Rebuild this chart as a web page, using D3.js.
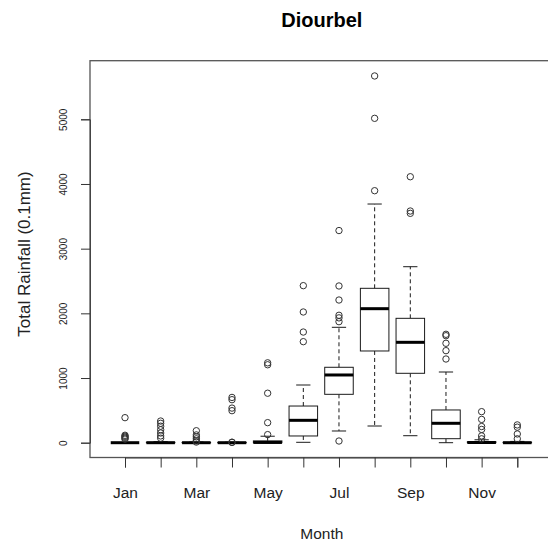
<!DOCTYPE html>
<html>
<head>
<meta charset="utf-8">
<script src="https://cdn.jsdelivr.net/npm/d3@7"></script>
<style>
  html, body { margin: 0; padding: 0; background: #fff; }
  svg { display: block; font-family: "Liberation Sans", Arial, sans-serif; }
</style>
</head>
<body>
<div id="chart"></div>
<script>
// monthly rainfall summary (units 0.1mm)
const months = ['Jan', 'Feb', 'Mar', 'Apr', 'May', 'Jun', 'Jul', 'Aug', 'Sep', 'Oct', 'Nov', 'Dec'];
const whiskerLow = [0, 0, 0, 0, 0, 6, 181, 258, 108, 0, 0, 0];
const q1 = [0, 0, 0, 0, 0, 104, 748, 1418, 1073, 62, 0, 0];
const medians = [0, 0, 0, 0, 4, 346, 1047, 2072, 1552, 300, 3, 0];
const q3 = [0, 6, 4, 3, 28, 567, 1166, 2387, 1923, 506, 14, 6];
const whiskerHigh = [0, 15, 10, 8, 100, 892, 1784, 3690, 2721, 1093, 45, 20];
const outliers = [
  [387, 115, 100, 85, 70, 55],
  [335, 300, 255, 200, 150, 105, 70],
  [185, 120, 90, 60, 30, 10],
  [700, 665, 535, 495, 8, 4],
  [1235, 1205, 765, 310, 125],
  [2428, 2021, 1711, 1562],
  [3280, 2423, 2206, 1970, 1930, 1871, 26],
  [5670, 5015, 3896],
  [4112, 3582, 3546],
  [1676, 1654, 1537, 1423, 1294],
  [480, 360, 250, 205, 105, 60],
  [275, 240, 135, 60]
];
const yTicks = [0, 1000, 2000, 3000, 4000, 5000];

const width = 548, height = 544;
const svg = d3.select('#chart').append('svg')
  .attr('width', width)
  .attr('height', height);

// scales: month index 1..12 and rainfall
const x = d3.scaleLinear().domain([1, 12]).range([125, 517.3]);
const y = d3.scaleLinear().domain([0, 5000]).range([442.7, 119.3]);

const plotLeft = 90, plotTop = 60.7, plotBottom = 457.5;
const plotRight = x(13.02);
const unit = x(2) - x(1);
const boxW = unit * 0.8;
const stapleW = unit * 0.4;
const ink = '#1a1a1a';

// title
svg.append('text')
  .attr('x', (plotLeft + plotRight) / 2)
  .attr('y', 27)
  .attr('text-anchor', 'middle')
  .style('font-size', '20px')
  .style('font-weight', 'bold')
  .text('Diourbel');

const g = svg.append('g');

// boxes
months.forEach((m, i) => {
  const cx = x(i + 1);
  const b = g.append('g');

  // whiskers (dashed)
  b.append('line')
    .attr('x1', cx).attr('x2', cx)
    .attr('y1', y(q3[i])).attr('y2', y(whiskerHigh[i]))
    .attr('stroke', ink).attr('stroke-dasharray', '4,3');
  b.append('line')
    .attr('x1', cx).attr('x2', cx)
    .attr('y1', y(q1[i])).attr('y2', y(whiskerLow[i]))
    .attr('stroke', ink).attr('stroke-dasharray', '4,3');

  // staples
  [whiskerHigh[i], whiskerLow[i]].forEach(v => {
    b.append('line')
      .attr('x1', cx - stapleW / 2).attr('x2', cx + stapleW / 2)
      .attr('y1', y(v)).attr('y2', y(v))
      .attr('stroke', ink);
  });

  // box
  b.append('rect')
    .attr('x', cx - boxW / 2)
    .attr('y', y(q3[i]))
    .attr('width', boxW)
    .attr('height', Math.max(0, y(q1[i]) - y(q3[i])))
    .attr('fill', '#fff')
    .attr('stroke', ink);

  // median
  b.append('line')
    .attr('x1', cx - boxW / 2).attr('x2', cx + boxW / 2)
    .attr('y1', y(medians[i])).attr('y2', y(medians[i]))
    .attr('stroke', '#000').attr('stroke-width', 3);

  // outliers
  b.selectAll('circle')
    .data(outliers[i])
    .enter()
    .append('circle')
    .attr('cx', cx)
    .attr('cy', d => y(d))
    .attr('r', 3.2)
    .attr('fill', 'none')
    .attr('stroke', '#333')
    .attr('stroke-width', 1);
});

// frame
svg.append('rect')
  .attr('x', plotLeft).attr('y', plotTop)
  .attr('width', plotRight - plotLeft)
  .attr('height', plotBottom - plotTop)
  .attr('fill', 'none')
  .attr('stroke', '#555')
  .attr('stroke-width', 1.3);

// x axis
const xAxis = d3.axisBottom(x)
  .tickValues(d3.range(1, 13))
  .tickSize(10)
  .tickFormat(d => (d % 2 === 1 ? months[d - 1] : ''));
const xg = svg.append('g')
  .attr('transform', `translate(0,${plotBottom})`)
  .call(xAxis);
xg.select('.domain').attr('stroke', '#444');
xg.selectAll('.tick line').attr('stroke', '#333');
xg.selectAll('.tick text')
  .attr('y', 40)
  .attr('dy', 0)
  .attr('fill', '#222')
  .style('font-size', '15.5px')
  .style('font-family', '"Liberation Sans", Arial, sans-serif');

// y axis
const yAxis = d3.axisLeft(y)
  .tickValues(yTicks)
  .tickSize(9)
  .tickFormat(d3.format('d'));
const yg = svg.append('g')
  .attr('transform', `translate(${plotLeft},0)`)
  .call(yAxis);
yg.select('.domain').attr('stroke', '#444');
yg.selectAll('.tick line').attr('stroke', '#333');
yg.selectAll('.tick text')
  .attr('x', 0).attr('dy', 0)
  .attr('transform', 'translate(-23.5,0) rotate(-90)')
  .attr('text-anchor', 'middle')
  .attr('fill', '#222')
  .style('font-size', '10px')
  .style('font-family', '"Liberation Sans", Arial, sans-serif');

// axis titles
svg.append('text')
  .attr('x', (plotLeft + plotRight) / 2)
  .attr('y', 539)
  .attr('text-anchor', 'middle')
  .attr('fill', '#222')
  .style('font-size', '15.5px')
  .text('Month');

svg.append('text')
  .attr('transform', `translate(30,${254}) rotate(-90)`)
  .attr('text-anchor', 'middle')
  .attr('fill', '#222')
  .style('font-size', '17px')
  .text('Total Rainfall (0.1mm)');
</script>
</body>
</html>
